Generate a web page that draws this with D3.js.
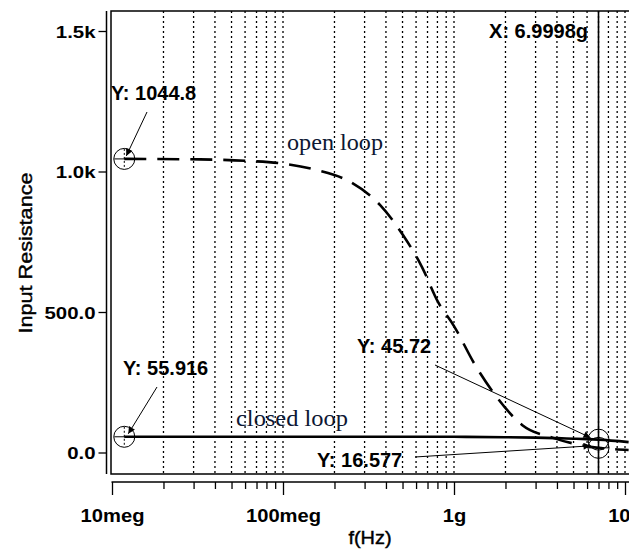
<!DOCTYPE html>
<html>
<head>
<meta charset="utf-8">
<script src="https://cdn.jsdelivr.net/npm/d3@7.9.0/dist/d3.min.js"></script>
<style>
  body { margin: 0; background: #fff; }
  svg { display: block; }
  text { font-family: Arial, "Liberation Sans", sans-serif; fill: #000; }
  .serif { font-family: "Times New Roman", "Liberation Serif", serif; fill: #0d1733; }
  .title { stroke: #000; stroke-width: 0.4px; }
</style>
</head>
<body>
<svg id="chart" width="629" height="553"></svg>
<script>
// open loop (dashed) and closed loop (solid), input resistance vs frequency
const freqOpen = [1.18e7, 3.27e7, 6.0e7, 1e8, 1.58e8, 2.47e8, 3.69e8, 5.03e8, 6.5e8, 8.06e8, 1e9, 1.33e9, 1.78e9, 2.5e9, 3.79e9, 5.68e9, 6.9998e9, 1.05e10];
const openLoop = [1044.8, 1043, 1038, 1028, 1005, 963, 881, 774, 660, 536, 450, 311, 197, 98, 52, 25, 16.577, 9];
const freqClosed = [1.18e7, 1e8, 1e9, 2e9, 3e9, 4e9, 5e9, 6e9, 6.9998e9, 1.05e10];
const closedLoop = [55.916, 55.916, 55.8, 54.5, 53, 51, 49, 47.5, 45.72, 37];

const xTickValues = [1e7, 1e8, 1e9, 1e10];
const xTickLabels = ['10meg', '100meg', '1g', '10g'];
const yTickValues = [0, 500, 1000, 1500];
const yTickLabels = ['0.0', '500.0', '1.0k', '1.5k'];

const cursorFreq = 6.9998e9;

const svg = d3.select('#chart');
const plotLeft = 111, plotTop = 11, plotBottom = 474;

const x = d3.scaleLog().domain([1e7, 1e10]).range([112, 625]);
const y = d3.scaleLinear().domain([0, 1000]).range([452.5, 171.5]);

// stretch text horizontally to mimic the wide screenshot font
function stretch(sel, k) {
  sel.each(function() {
    const len = this.getComputedTextLength();
    d3.select(this).attr('textLength', len * k).attr('lengthAdjust', 'spacingAndGlyphs');
  });
}

const defs = svg.append('defs');
defs.append('marker')
  .attr('id', 'arrow')
  .attr('viewBox', '0 0 10 10')
  .attr('refX', 10).attr('refY', 5)
  .attr('markerWidth', 9).attr('markerHeight', 7)
  .attr('markerUnits', 'userSpaceOnUse')
  .attr('orient', 'auto')
  .append('path').attr('d', 'M0,0L10,5L0,10z').attr('fill', '#000');

// dotted vertical grid
const gridTicks = x.ticks().filter(d => d > 1e7);
svg.append('g').selectAll('line')
  .data(gridTicks)
  .join('line')
  .attr('x1', d => x(d)).attr('x2', d => x(d))
  .attr('y1', plotTop).attr('y2', plotBottom)
  .attr('stroke', '#000')
  .attr('stroke-width', 1.3)
  .attr('stroke-dasharray', '2,3');

// frame
svg.append('path')
  .attr('d', `M629,${plotTop}H${plotLeft}V${plotBottom}H629`)
  .attr('fill', 'none').attr('stroke', '#000').attr('stroke-width', 1.5);

// y axis (separate line left of the frame)
const yAxis = svg.append('g')
  .attr('transform', 'translate(106.5,0)')
  .call(d3.axisLeft(y).tickValues(yTickValues).tickFormat((d, i) => yTickLabels[i]).tickSize(8).tickSizeOuter(0));
yAxis.select('.domain').attr('d', `M0,${plotTop}V${plotBottom}`).attr('stroke-width', 1.5);
yAxis.selectAll('.tick line').attr('stroke-width', 1.3);
yAxis.selectAll('.tick text')
  .attr('x', -11).attr('dy', '0.36em')
  .style('font-size', '17px').style('font-weight', 'bold').style('font-family', 'Arial, "Liberation Sans", sans-serif');
stretch(yAxis.selectAll('.tick text'), 1.2);

// x axis (separate line below the frame)
const xAxis = svg.append('g')
  .attr('transform', 'translate(0,482)')
  .call(d3.axisBottom(x).tickValues(x.ticks()).tickFormat(d => {
    const i = xTickValues.indexOf(d);
    return i < 0 ? '' : xTickLabels[i];
  }).tickSizeOuter(0));
xAxis.select('.domain').attr('d', 'M111.5,0H629').attr('stroke-width', 1.5);
xAxis.selectAll('.tick line')
  .attr('y2', d => xTickValues.includes(d) ? 13 : 7)
  .attr('stroke-width', 1.3);
xAxis.selectAll('.tick text')
  .attr('y', 40).attr('dy', 0)
  .style('font-size', '18px').style('font-weight', 'bold').style('font-family', 'Arial, "Liberation Sans", sans-serif');
stretch(xAxis.selectAll('.tick text'), 1.12);

// axis titles
svg.append('text')
  .attr('class', 'title')
  .attr('transform', 'translate(32,253) rotate(-90)')
  .attr('text-anchor', 'middle')
  .style('font-size', '18px')
  .text('Input Resistance')
  .call(stretch, 1.2);
svg.append('text')
  .attr('class', 'title')
  .attr('x', 370).attr('y', 544)
  .attr('text-anchor', 'middle')
  .style('font-size', '19px')
  .text('f(Hz)')
  .call(stretch, 1.05);

// curves
const line = d3.line().x(d => x(d[0])).y(d => y(d[1])).curve(d3.curveMonotoneX);
svg.append('path')
  .datum(d3.zip(freqClosed, closedLoop))
  .attr('d', line)
  .attr('fill', 'none').attr('stroke', '#000').attr('stroke-width', 2.6);
svg.append('path')
  .datum(d3.zip(freqOpen, openLoop))
  .attr('d', line)
  .attr('fill', 'none').attr('stroke', '#000').attr('stroke-width', 2.6)
  .attr('stroke-dasharray', '22,11');

// cursor
svg.append('line')
  .attr('x1', x(cursorFreq)).attr('x2', x(cursorFreq))
  .attr('y1', plotTop).attr('y2', plotBottom)
  .attr('stroke', '#000').attr('stroke-width', 1.6);

// point markers
const markers = [
  [freqOpen[0], openLoop[0]],
  [freqClosed[0], closedLoop[0]],
  [cursorFreq, 45.72],
  [cursorFreq, 16.577]
];
const mk = svg.append('g').selectAll('g').data(markers).join('g')
  .attr('transform', d => `translate(${x(d[0])},${y(d[1])})`);
mk.append('circle').attr('r', 10.5).attr('fill', 'none').attr('stroke', '#000').attr('stroke-width', 1);
mk.append('line').attr('x1', 0).attr('x2', 0).attr('y1', -10).attr('y2', 10)
  .attr('stroke', '#000').attr('stroke-width', 1).attr('stroke-dasharray', '2,2');
mk.append('line').attr('x1', -10).attr('x2', 10).attr('y1', 0).attr('y2', 0)
  .attr('stroke', '#000').attr('stroke-width', 1);

// annotations: label position, arrow start, arrow target
const ann = [
  { text: 'Y: 1044.8', tx: 111, ty: 100, from: [147, 112], to: markers[0], off: [2, -3] },
  { text: 'Y: 55.916', tx: 123, ty: 375, from: [157, 387], to: markers[1], off: [4, -3] },
  { text: 'Y: 45.72', tx: 357, ty: 353, from: [435, 365], to: markers[2], off: [-8, -2] },
  { text: 'Y: 16.577', tx: 317, ty: 467, from: [415, 457], to: markers[3], off: [-8, -2] }
];
const ag = svg.append('g');
ann.forEach(a => {
  ag.append('line')
    .attr('x1', a.from[0]).attr('y1', a.from[1])
    .attr('x2', x(a.to[0]) + a.off[0]).attr('y2', y(a.to[1]) + a.off[1])
    .attr('stroke', '#000').attr('stroke-width', 1)
    .attr('marker-end', 'url(#arrow)');
  ag.append('text')
    .attr('x', a.tx).attr('y', a.ty)
    .style('font-size', '20px').style('font-weight', 'bold')
    .text(a.text)
    .call(stretch, 1.0);
});
svg.append('text')
  .attr('x', 588).attr('y', 38)
  .attr('text-anchor', 'end')
  .style('font-size', '20px').style('font-weight', 'bold')
  .text('X: 6.9998g')
  .call(stretch, 1.0);

// series names
svg.append('text').attr('class', 'serif')
  .attr('x', 287).attr('y', 150)
  .style('font-size', '23px')
  .attr('textLength', 96).attr('lengthAdjust', 'spacingAndGlyphs')
  .text('open loop');
svg.append('text').attr('class', 'serif')
  .attr('x', 236).attr('y', 426)
  .style('font-size', '23px')
  .attr('textLength', 112).attr('lengthAdjust', 'spacingAndGlyphs')
  .text('closed loop');
</script>
</body>
</html>
